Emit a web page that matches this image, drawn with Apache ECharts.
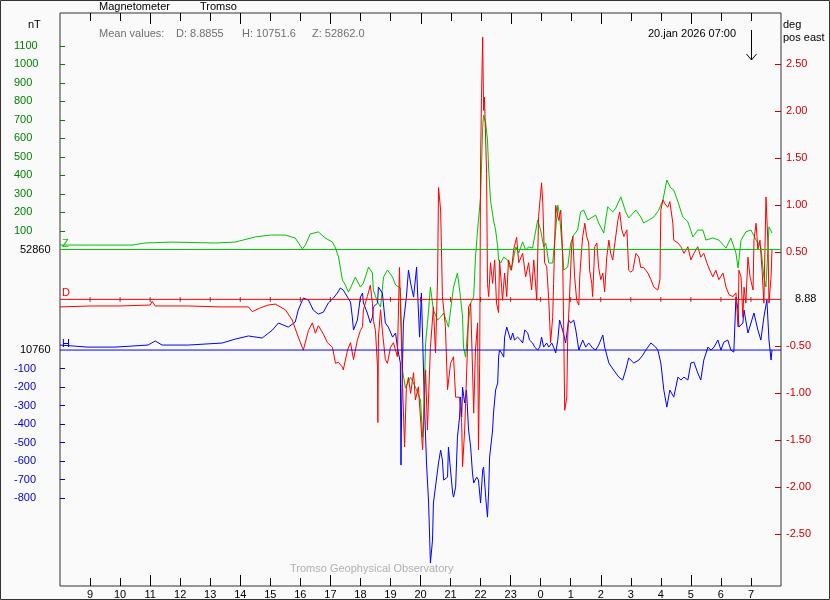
<!DOCTYPE html>
<html>
<head>
<meta charset="utf-8">
<script src="https://cdn.jsdelivr.net/npm/echarts@6/dist/echarts.min.js"></script>
<style>
html,body{margin:0;padding:0;background:#fafafa;}
#c{width:830px;height:600px;}
</style>
</head>
<body>
<div id="c"></div>
<script>
// Time in hours (>24 = next day). Z, H in nT relative to baselines 52860 / 10760; D in deg relative to 8.88.
const zData = [[8.0,24],[9.0,24],[10.4,24],[10.83,35],[11.73,40],[13.17,35],[13.83,40],[14.5,68],[15.0,78],[15.5,78],[15.83,62],[16.07,3],[16.17,24],[16.33,84],[16.6,95],[16.83,62],[17.07,40],[17.17,8],[17.27,-40],[17.4,-165],[17.5,-192],[17.6,-230],[17.67,-208],[17.83,-149],[18.0,-203],[18.1,-181],[18.27,-95],[18.4,-127],[18.43,-219],[18.57,-284],[18.67,-311],[18.77,-149],[18.9,-111],[19.07,-149],[19.17,-192],[19.33,-208],[19.4,-651],[19.5,-748],[19.67,-689],[19.83,-743],[20.0,-813],[20.07,-1013],[20.1,-905],[20.17,-505],[20.27,-327],[20.33,-203],[20.43,-327],[20.57,-381],[20.67,-365],[20.77,-343],[20.93,-419],[21.1,-203],[21.23,-127],[21.33,-256],[21.4,-365],[21.43,-527],[21.5,-581],[21.57,-435],[21.67,-289],[21.77,-256],[21.83,-41],[21.9,105],[21.93,159],[22.0,284],[22.07,661],[22.1,726],[22.17,683],[22.23,591],[22.27,429],[22.33,267],[22.43,159],[22.5,105],[22.57,14],[22.6,-57],[22.67,-73],[22.77,-41],[22.9,-57],[23.0,-111],[23.07,-73],[23.17,14],[23.27,-19],[23.4,41],[23.5,-3],[23.6,14],[23.73,8],[23.9,159],[24.0,105],[24.1,14],[24.17,35],[24.27,-73],[24.4,-73],[24.5,105],[24.57,240],[24.63,186],[24.73,-19],[24.77,-111],[24.9,-95],[25.0,35],[25.1,78],[25.23,105],[25.33,203],[25.43,213],[25.57,159],[25.83,186],[25.93,143],[26.1,89],[26.23,230],[26.4,203],[26.5,224],[26.67,284],[26.83,203],[26.93,170],[27.17,213],[27.33,176],[27.43,143],[27.6,159],[27.77,176],[27.93,213],[28.07,267],[28.2,375],[28.33,332],[28.43,321],[28.57,257],[28.73,176],[28.9,149],[29.07,68],[29.23,105],[29.4,105],[29.5,51],[29.73,62],[29.93,51],[30.17,8],[30.33,62],[30.5,-19],[30.57,-100],[30.67,51],[30.83,95],[31.0,105],[31.17,51],[31.33,14],[31.43,-149],[31.5,-203],[31.6,122],[31.7,89]];
const hData = [[8.0,27],[8.93,16],[9.83,16],[10.93,27],[11.17,49],[11.4,27],[12.27,27],[13.4,38],[13.83,59],[14.27,76],[14.73,65],[15.07,108],[15.27,146],[15.6,124],[15.83,151],[15.93,216],[16.1,281],[16.27,270],[16.43,216],[16.6,194],[16.77,205],[16.93,254],[17.1,281],[17.23,308],[17.33,335],[17.43,324],[17.57,286],[17.67,259],[17.73,178],[17.77,108],[17.9,162],[18.0,286],[18.07,308],[18.1,254],[18.23,200],[18.33,146],[18.4,178],[18.43,232],[18.57,254],[18.6,340],[18.73,308],[18.83,146],[18.93,124],[19.07,70],[19.17,92],[19.23,16],[19.33,-70],[19.35,-621],[19.37,-324],[19.43,146],[19.53,286],[19.6,432],[19.67,362],[19.77,286],[19.87,448],[19.9,324],[19.97,70],[20.03,308],[20.1,-108],[20.13,-286],[20.2,-610],[20.27,-826],[20.33,-1150],[20.4,-1026],[20.43,-826],[20.57,-648],[20.6,-610],[20.67,-540],[20.73,-594],[20.77,-702],[20.9,-686],[20.93,-524],[21.0,-648],[21.07,-772],[21.1,-794],[21.17,-740],[21.23,-470],[21.3,-362],[21.33,-254],[21.37,-362],[21.4,-200],[21.47,-286],[21.53,-216],[21.6,-432],[21.67,-524],[21.73,-664],[21.77,-718],[21.87,-686],[21.93,-702],[22.0,-826],[22.07,-648],[22.1,-632],[22.17,-794],[22.23,-902],[22.27,-756],[22.3,-578],[22.4,-432],[22.43,-340],[22.5,-216],[22.57,-178],[22.6,-38],[22.63,0],[22.7,-16],[22.77,-38],[22.8,70],[22.87,124],[22.93,92],[23.0,54],[23.07,92],[23.13,54],[23.23,70],[23.33,54],[23.4,38],[23.47,108],[23.57,92],[23.63,54],[23.73,38],[23.8,16],[23.9,0],[23.97,16],[24.03,70],[24.1,16],[24.2,38],[24.27,16],[24.37,38],[24.43,16],[24.5,-16],[24.57,54],[24.63,162],[24.73,108],[24.83,38],[24.93,162],[25.0,146],[25.1,162],[25.17,108],[25.27,0],[25.4,54],[25.5,16],[25.6,38],[25.73,11],[25.83,0],[25.93,27],[26.07,81],[26.13,16],[26.27,-70],[26.43,-108],[26.6,-146],[26.73,-162],[26.83,-108],[26.93,-43],[27.1,-70],[27.27,-54],[27.4,-27],[27.5,0],[27.67,38],[27.83,16],[27.9,0],[28.0,-70],[28.1,-216],[28.2,-308],[28.3,-216],[28.43,-254],[28.57,-146],[28.67,-162],[28.77,-146],[28.9,-162],[29.0,-70],[29.1,-65],[29.23,-124],[29.33,-162],[29.43,-54],[29.57,16],[29.67,0],[29.77,16],[29.9,54],[30.0,0],[30.1,43],[30.23,54],[30.33,0],[30.43,-11],[30.5,286],[30.57,216],[30.6,124],[30.73,146],[30.77,216],[30.9,92],[31.0,146],[31.1,200],[31.23,108],[31.33,54],[31.43,178],[31.53,270],[31.6,54],[31.67,-54],[31.7,0]];
const dData = [[8.0,-0.08],[9.0,-0.07],[10.0,-0.07],[11.0,-0.06],[11.07,-0.02],[11.17,-0.07],[12.27,-0.07],[13.33,-0.08],[14.27,-0.08],[14.4,-0.13],[14.67,-0.09],[14.93,-0.06],[15.17,-0.05],[15.5,-0.11],[15.73,-0.22],[15.93,-0.40],[16.1,-0.54],[16.27,-0.33],[16.4,-0.25],[16.5,-0.36],[16.6,-0.28],[16.77,-0.37],[16.9,-0.46],[17.07,-0.51],[17.17,-0.68],[17.27,-0.67],[17.4,-0.72],[17.43,-0.75],[17.57,-0.54],[17.67,-0.46],[17.77,-0.64],[17.9,-0.43],[18.0,-0.33],[18.07,-0.29],[18.1,-0.11],[18.23,0.03],[18.33,0.15],[18.4,-0.04],[18.43,-0.22],[18.5,-0.33],[18.57,-0.72],[18.58,-1.31],[18.6,-0.40],[18.67,-0.11],[18.73,-0.33],[18.83,-0.64],[18.9,-0.68],[19.0,-0.51],[19.1,-0.46],[19.23,-0.61],[19.3,0.34],[19.33,-0.04],[19.4,-0.89],[19.47,-1.57],[19.53,-0.93],[19.6,-0.83],[19.67,-1.0],[19.77,-0.78],[19.83,-1.07],[19.93,-0.93],[20.07,-1.60],[20.1,-1.36],[20.17,-0.75],[20.23,-1.39],[20.33,-0.51],[20.43,-0.08],[20.5,-0.57],[20.57,0.24],[20.6,1.19],[20.67,0.95],[20.73,0.03],[20.83,-0.29],[20.9,-0.96],[21.0,-0.68],[21.1,-0.61],[21.17,-1.04],[21.23,-1.04],[21.3,-1.04],[21.37,-1.31],[21.4,-1.78],[21.47,-1.39],[21.57,-0.46],[21.6,-0.08],[21.67,-0.04],[21.73,-0.72],[21.77,-1.21],[21.83,-0.54],[21.9,-0.25],[21.93,-1.60],[21.97,-0.68],[22.0,1.45],[22.03,2.15],[22.07,2.79],[22.1,2.01],[22.13,2.15],[22.2,1.34],[22.23,0.17],[22.27,0.03],[22.33,0.39],[22.4,0.17],[22.47,0.42],[22.53,-0.04],[22.6,-0.14],[22.63,0.42],[22.7,0.13],[22.73,-0.01],[22.8,0.28],[22.87,0.03],[22.93,0.42],[23.03,0.31],[23.1,0.53],[23.2,0.66],[23.27,0.39],[23.33,0.39],[23.4,0.49],[23.5,0.24],[23.6,0.39],[23.7,0.10],[23.77,0.42],[23.87,-0.01],[23.93,0.88],[24.03,1.24],[24.07,1.03],[24.13,0.39],[24.2,0.35],[24.27,-0.01],[24.33,-0.46],[24.4,-0.19],[24.43,0.17],[24.5,1.00],[24.6,0.84],[24.67,0.95],[24.73,0.49],[24.77,-0.40],[24.8,-1.18],[24.87,-1.04],[24.9,-0.40],[24.97,0.10],[25.03,0.56],[25.07,0.67],[25.13,0.24],[25.2,-0.01],[25.27,-0.06],[25.3,0.24],[25.37,0.56],[25.4,0.67],[25.47,0.81],[25.53,0.67],[25.6,0.60],[25.63,0.31],[25.7,0.17],[25.73,0.03],[25.8,0.56],[25.87,0.60],[25.93,0.34],[26.0,0.21],[26.07,0.28],[26.13,0.08],[26.2,0.45],[26.27,0.63],[26.33,0.49],[26.4,0.42],[26.47,0.60],[26.57,0.84],[26.63,0.93],[26.7,0.74],[26.77,0.67],[26.87,0.74],[26.93,0.31],[27.0,0.29],[27.07,0.31],[27.17,0.49],[27.27,0.45],[27.33,0.34],[27.43,0.34],[27.57,0.28],[27.67,0.21],[27.77,0.13],[27.9,0.10],[27.97,0.21],[28.0,0.95],[28.07,1.06],[28.13,1.02],[28.23,0.98],[28.3,1.04],[28.4,0.81],[28.43,0.63],[28.57,0.60],[28.67,0.56],[28.77,0.49],[28.9,0.56],[29.0,0.42],[29.1,0.49],[29.23,0.56],[29.33,0.45],[29.43,0.49],[29.53,0.39],[29.63,0.31],[29.73,0.24],[29.83,0.31],[29.93,0.21],[30.07,0.28],[30.17,0.13],[30.27,0.05],[30.33,0.07],[30.4,0.03],[30.5,0.07],[30.57,-0.29],[30.6,0.31],[30.67,0.24],[30.73,-0.19],[30.77,0.13],[30.83,-0.04],[30.9,0.45],[30.97,0.24],[31.07,0.10],[31.1,0.63],[31.17,0.81],[31.23,0.53],[31.3,0.63],[31.37,0.31],[31.43,-0.04],[31.5,1.09],[31.57,0.56],[31.6,-0.04],[31.67,0.24],[31.7,0.53]];

const hourTicks = [9,10,11,12,13,14,15,16,17,18,19,20,21,22,23,24,25,26,27,28,29,30,31];
const majorHourTicks = [11,14,17,20,23,26,29];
const zTickLabels = [100,200,300,400,500,600,700,800,900,1000,1100];
const hTickLabels = [-100,-200,-300,-400,-500,-600,-700,-800];
const degTickLabels = [2.5,2.0,1.5,1.0,0.5,-0.5,-1.0,-1.5,-2.0,-2.5];
const zBase = '52860', hBase = '10760', dBase = '8.88';
const meanD = '8.8855', meanH = '10751.6', meanZ = '52862.0';
const arrowHour = 31;
const timeSpan = [8, 32];

const Z_OFF = 10000, H_OFF = 10000 - 543, D_OFF = 10;
const NT_MIN = -1817 + Z_OFF, NT_MAX = 1277 + Z_OFF;
const DEG_MIN = -3.0489 + D_OFF, DEG_MAX = 3.0468 + D_OFF;
const FONT = '"Liberation Sans", Arial, sans-serif';
const GREEN = '#00c400', RED = '#ff0000', BLUE = '#0000ff';

const chart = echarts.init(document.getElementById('c'), null, {renderer:'canvas'});

function xAx(pos, ticks, len, labels){
  return {
    type:'value', position:pos, min:timeSpan[0], max:timeSpan[1],
    axisLine:{show:false, onZero:false}, splitLine:{show:false}, splitArea:{show:false},
    axisTick:{show:true, inside:true, length:len, customValues:ticks, lineStyle:{color:'#000', width:1}},
    axisLabel: labels ? {show:true, customValues:ticks, formatter:v=>String(Math.round(v)%24), margin:3, color:'#000', fontSize:11, fontFamily:FONT} : {show:false}
  };
}
function yAx(pos, min, max, ticks, tickColor, tickLen, fmt, labColor, margin){
  return {
    type:'value', position:pos, min:min, max:max,
    axisLine:{show:false, onZero:false}, splitLine:{show:false}, splitArea:{show:false},
    axisTick:{show:true, inside:true, length:tickLen, customValues:ticks, lineStyle:{color:tickColor, width:1}},
    axisLabel:{show:true, customValues:ticks, formatter:fmt, color:labColor, margin:margin, align:'left', fontSize:11, fontFamily:FONT}
  };
}

const baseSeries = (name, yIdx, val, color) => ({
  name:name, type:'line', xAxisIndex:0, yAxisIndex:yIdx, data:timeSpan.map(t=>[t,val]),
  showSymbol:false, symbol:'none', silent:true, lineStyle:{color:color, width:1, opacity:1}, zlevel:1, z:10
});

const option = {
  animation:false,
  backgroundColor:'#fafafa',
  grid:{left:60, right:49, top:13, bottom:14, show:true, borderColor:'#333', borderWidth:1, backgroundColor:'transparent'},
  xAxis:[
    xAx('bottom', hourTicks, 8, true),
    xAx('bottom', majorHourTicks, 11, false)
  ],
  yAxis:[
    yAx('left', NT_MIN, NT_MAX, zTickLabels.map(v=>v+Z_OFF), '#008000', 5, v=>String(Math.round(v-Z_OFF)), '#008000', 46),
    yAx('left', NT_MIN, NT_MAX, hTickLabels.map(v=>v+H_OFF), '#0000cc', 5, v=>String(Math.round(v-H_OFF)), '#0000cc', 46),
    yAx('right', DEG_MIN, DEG_MAX, degTickLabels.map(v=>v+D_OFF), '#cc0000', 6, v=>(v-D_OFF).toFixed(2), '#cc0000', 5)
  ],
  series:[
    {name:'Z', type:'line', xAxisIndex:0, yAxisIndex:0, data:zData.map(p=>[p[0], p[1]+Z_OFF]), showSymbol:false, symbol:'none', lineStyle:{color:GREEN, width:1}, z:2},
    {name:'H', type:'line', xAxisIndex:0, yAxisIndex:0, data:hData.map(p=>[p[0], p[1]+H_OFF]), showSymbol:false, symbol:'none', lineStyle:{color:BLUE, width:1}, z:3},
    {name:'D', type:'line', xAxisIndex:0, yAxisIndex:2, data:dData.map(p=>[p[0], p[1]+D_OFF]), showSymbol:false, symbol:'none', lineStyle:{color:RED, width:1}, z:4},
    baseSeries('Zbase', 0, Z_OFF, GREEN),
    baseSeries('Hbase', 0, H_OFF, BLUE),
    baseSeries('Dbase', 2, D_OFF, RED),
    {name:'Dmarks', type:'scatter', xAxisIndex:0, yAxisIndex:2, data:hourTicks.map(h=>[h,D_OFF]), symbol:'rect', symbolSize:[1,5], itemStyle:{color:'#990000'}, silent:true, zlevel:1, z:11}
  ]
};
chart.setOption(option);

const ax = Math.round(chart.convertToPixel({xAxisIndex:0}, arrowHour));
const x0 = chart.convertToPixel({xAxisIndex:0}, timeSpan[0]);
const x1 = chart.convertToPixel({xAxisIndex:0}, timeSpan[1]);
const yZ = chart.convertToPixel({yAxisIndex:0}, Z_OFF);
const yH = chart.convertToPixel({yAxisIndex:0}, H_OFF);
const yD = chart.convertToPixel({yAxisIndex:2}, D_OFF);
const gridTop = chart.convertToPixel({yAxisIndex:0}, NT_MAX);
const txt = (x,y,t,fill)=>({type:'text', x:x, y:y, silent:true, style:{text:t, fill:fill, font:'11px '+FONT, verticalAlign:'middle', align:'left'}});

// top-edge hour ticks (pointing down), placed through the time axis scale
const topTicks = hourTicks.map(h=>{
  const px = Math.round(chart.convertToPixel({xAxisIndex:0}, h)) + 0.5;
  const len = majorHourTicks.indexOf(h) >= 0 ? 11 : 8;
  return {type:'line', silent:true, shape:{x1:px, y1:Math.round(gridTop), x2:px, y2:Math.round(gridTop)+len}, style:{stroke:'#000', lineWidth:1}};
});

chart.setOption({
  graphic:[
    {type:'rect', silent:true, shape:{x:0.5, y:0.5, width:829, height:599}, style:{fill:'none', stroke:'#333', lineWidth:1}},
    txt(99, 7, 'Magnetometer', '#000'),
    txt(200, 7, 'Tromso', '#000'),
    txt(28, 25, 'nT', '#000'),
    txt(99, 34, 'Mean values:', '#707070'),
    txt(176, 34, 'D: ' + meanD, '#707070'),
    txt(242, 34, 'H: ' + meanH, '#707070'),
    txt(312, 34, 'Z: ' + meanZ, '#707070'),
    txt(648, 34, '20.jan 2026 07:00', '#000'),
    txt(783, 25, 'deg', '#000'),
    txt(783, 38, 'pos east', '#000'),
    txt(290, 569, 'Tromso Geophysical Observatory', '#b0b0b0'),
    txt(x0-40, yZ, zBase, '#000'),
    txt(x0-40, yH, hBase, '#000'),
    txt(x1+14, yD, dBase, '#000'),
    txt(x0+2, yZ-6, 'Z', GREEN),
    txt(x0+2, yD-6, 'D', RED),
    txt(x0+2, yH-6, 'H', BLUE),
    {type:'polyline', silent:true, shape:{points:[[ax+0.5,30],[ax+0.5,60]]}, style:{stroke:'#000', lineWidth:1, fill:'none'}},
    {type:'polyline', silent:true, shape:{points:[[ax-4.5,54],[ax+0.5,60],[ax+5.5,54]]}, style:{stroke:'#000', lineWidth:1, fill:'none'}}
  ].concat(topTicks)
});
</script>
</body>
</html>
